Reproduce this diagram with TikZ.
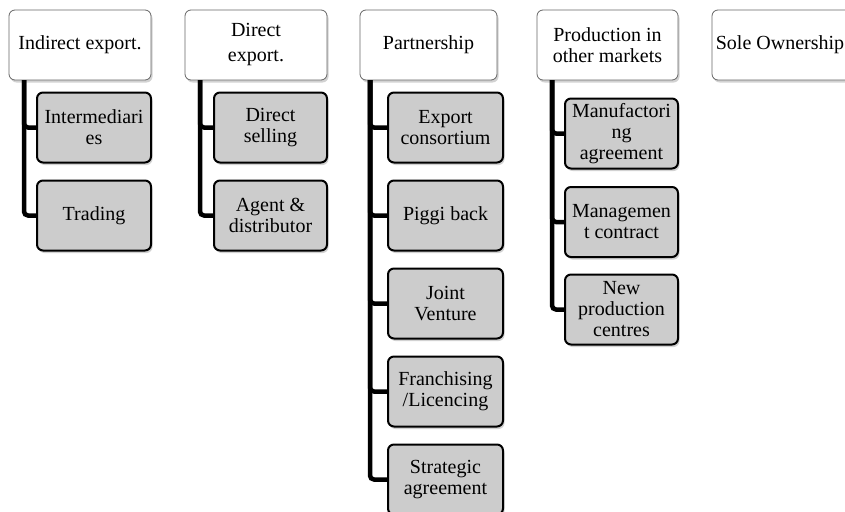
\documentclass[tikz,border=0pt]{standalone}
\usepackage{fontspec}
\setmainfont{Liberation Serif}
\usetikzlibrary{shadows}

\begin{document}
\begin{tikzpicture}[x=1pt, y=-1pt,
    head/.style={draw=black!60, line width=0.8pt, fill=white, rounded corners=6pt,
      minimum width=#1, minimum height=70pt, inner sep=2pt, align=center,
      font=\fontsize{20}{21}\selectfont,
      drop shadow={shadow xshift=1.5pt, shadow yshift=-2.5pt, opacity=0.35}},
    head/.default=142pt,
    item/.style={draw=black, line width=2pt, fill=black!20, rounded corners=6pt,
      minimum width=#1, minimum height=70pt, inner sep=2pt, align=center,
      font=\fontsize{20}{21}\selectfont,
      drop shadow={shadow xshift=1.5pt, shadow yshift=-2.5pt, opacity=0.35}},
    item/.default=113pt,
    trunk/.style={line width=4.5pt, rounded corners=4pt}
]
  \useasboundingbox[fill=white] (0,0) rectangle (845,511);

  % top row
  \node[head] (ind) at (80,45) {Indirect export.};
  \node[head] (dir) at (256,45) {Direct\\[4pt]export.};
  \node[head=137pt] (par) at (428.5,45) {Partnership};
  \node[head=141pt] (pro) at (607.5,45) {Production in\\other markets};
  \node[head=144pt] (sol) at (784,45) {Sole Ownership\hspace{8pt}};

  \coordinate (indT) at (24,80);
  \coordinate (dirT) at (200,80);
  \coordinate (parT) at (370,80);
  \coordinate (proT) at (552,80);

  % children
  \foreach \n/\y/\txt in {1/127.5/{Intermediari\\es}, 2/215.5/Trading}
    \node[item=114pt] (ind\n) at (94,\y) {\txt};
  \foreach \n/\y/\txt in {1/127.5/{Direct\\selling}, 2/215.5/{Agent \&\\distributor}}
    \node[item] (dir\n) at (270.5,\y) {\txt};
  \foreach \n/\y/\txt in {1/127.5/{Export\\consortium}, 2/215.5/Piggi back,
      3/303.5/{Joint\\Venture}, 4/391.5/{Franchising\\/Licencing},
      5/479.5/{Strategic\\agreement}}
    \node[item=115pt] (par\n) at (445.5,\y) {\txt};
  \foreach \n/\y/\txt in {1/133.5/{Manufactori\\ng\\agreement},
      2/222/{Managemen\\t contract}, 3/309.5/{New\\production\\centres}}
    \node[item] (pro\n) at (621.5,\y) {\txt};

  % connectors
  \foreach \n in {1,2} \draw[trunk] (indT) |- (ind\n.west);
  \foreach \n in {1,2} \draw[trunk] (dirT) |- (dir\n.west);
  \foreach \n in {1,...,5} \draw[trunk] (parT) |- (par\n.west);
  \foreach \n in {1,2,3} \draw[trunk] (proT) |- (pro\n.west);
\end{tikzpicture}
\end{document}
